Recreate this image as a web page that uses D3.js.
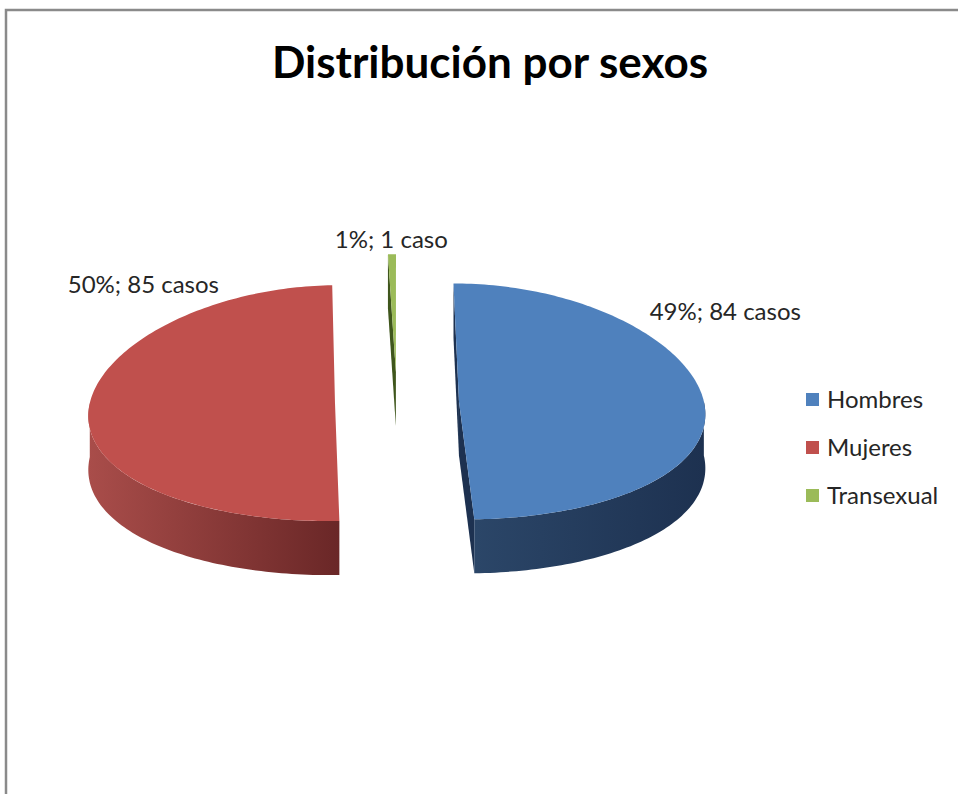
<!DOCTYPE html>
<html>
<head>
<meta charset="utf-8">
<script src="https://cdn.jsdelivr.net/npm/d3@7"></script>
<style>
  body { margin: 0; background: #ffffff; }
  text { font-family: Lato, "Open Sans", sans-serif; }
</style>
</head>
<body>
<div id="pie_chart"></div>
<script>
// data
const categories = ["Hombres", "Mujeres", "Transexual"];
const casos = [84, 85, 1];
const title = "Distribución por sexos";

const width = 958, height = 794;

// 3d pie geometry
const cx = 397, cy = 402;
const rx = 245, ry = 118;
const depth = 54;
const explode = 62;
const persp = 0.00075; // slight perspective: far side narrower

const color = d3.scaleOrdinal().domain(categories).range(["#4f81bd", "#c0504d", "#9bbb59"]);
const sideLight = d3.scaleOrdinal().domain(categories).range(["#2b4668", "#a94d4a", "#7d9a45"]);
const sideDark = d3.scaleOrdinal().domain(categories).range(["#1d3150", "#6a2727", "#3f561c"]);

const svg = d3.select("#pie_chart")
  .append("svg")
  .attr("width", width)
  .attr("height", height);

// chart frame (right and bottom edges fall outside)
svg.append("rect")
  .attr("x", 6).attr("y", 10)
  .attr("width", 1200).attr("height", 1200)
  .attr("fill", "#ffffff")
  .attr("stroke", "#8a8a8a")
  .attr("stroke-width", 2.5);

svg.append("text")
  .attr("x", 490)
  .attr("y", 78)
  .attr("text-anchor", "middle")
  .style("font-size", "44px")
  .style("font-weight", "bold")
  .attr("fill", "#000")
  .text(title);

const total = d3.sum(casos);
const rows = categories.map((c, i) => ({ cat: c, value: casos[i] }));

const pie = d3.pie()
  .sort(null)
  .value(d => d.value)
  .startAngle(0)
  .endAngle(2 * Math.PI);

const arcs = pie(rows);

const defs = svg.append("defs");
arcs.forEach((a, i) => {
  const g = defs.append("linearGradient")
    .attr("id", "side" + i)
    .attr("x1", "0%").attr("x2", "100%")
    .attr("y1", "0%").attr("y2", "0%");
  g.append("stop").attr("offset", "0%").attr("stop-color", sideLight(a.data.cat));
  g.append("stop").attr("offset", "100%").attr("stop-color", sideDark(a.data.cat));
});

// point on a slice's ground ellipse
const flat = (c, ang) => [c[0] + rx * Math.sin(ang), c[1] - ry * Math.cos(ang)];
// project it (plus a vertical drop dy)
const project = (x, y, dy = 0) => {
  const s = 1 + persp * (y - cy);
  return [cx + (x - cx) * s, y + dy];
};
const pt = (c, ang, dy = 0) => project(...flat(c, ang), dy);
const arcPts = (c, a0, a1, dy = 0) => {
  const n = Math.max(2, Math.ceil((a1 - a0) / 0.02));
  return d3.range(n + 1).map(k => pt(c, a0 + (a1 - a0) * k / n, dy));
};
const area = p => d3.sum(p, (q, k) => {
  const r = p[(k + 1) % p.length];
  return q[0] * r[1] - r[0] * q[1];
});
const line = d3.line().curve(d3.curveLinear);

const pieG = svg.append("g");

arcs.forEach((a, i) => {
  const mid = (a.startAngle + a.endAngle) / 2;
  const c = [cx + explode * Math.sin(mid), cy - explode * Math.cos(mid) * ry / rx];
  const g = pieG.append("g");
  const c0 = project(c[0], c[1]);
  const c1 = project(c[0], c[1], depth);

  // cut faces that turn toward the viewer
  [[a.startAngle, -1], [a.endAngle, 1]].forEach(([ang, sign]) => {
    const poly = [c0, pt(c, ang), pt(c, ang, depth), c1];
    if (sign * area(poly) > 0) {
      g.append("path")
        .attr("d", line(poly) + "Z")
        .attr("fill", sideDark(a.data.cat));
    }
  });

  // outer wall, front half only
  const s = Math.max(a.startAngle, Math.PI / 2);
  const e = Math.min(a.endAngle, 3 * Math.PI / 2);
  if (e > s) {
    const pts = arcPts(c, s, e).concat(arcPts(c, s, e, depth).reverse());
    g.append("path")
      .attr("d", line(pts) + "Z")
      .attr("fill", "url(#side" + i + ")");
  }

  // top
  g.append("path")
    .attr("d", line([c0].concat(arcPts(c, a.startAngle, a.endAngle))) + "Z")
    .attr("fill", color(a.data.cat));

  a.center = c;
});

// data labels
const pct = d3.format(".0%");
const labelPlace = [
  { ang: 50, anchor: "start", dx: 3 },
  { ang: 332, anchor: "end", dx: -1 },
  { ang: null, anchor: "middle", dx: 0 }
];
arcs.forEach((a, i) => {
  const p = labelPlace[i];
  const ang = p.ang === null ? (a.startAngle + a.endAngle) / 2 : p.ang * Math.PI / 180;
  const r = flat(a.center, ang);
  svg.append("text")
    .attr("x", r[0] + p.dx)
    .attr("y", r[1] - 6)
    .attr("text-anchor", p.anchor)
    .style("font-size", "24px")
    .attr("fill", "#262626")
    .text(pct(a.data.value / total) + "; " + a.data.value + (a.data.value === 1 ? " caso" : " casos"));
});

// legend
const legend = svg.append("g").attr("transform", "translate(806,400)");
const item = legend.selectAll("g")
  .data(categories)
  .join("g")
  .attr("transform", (d, i) => "translate(0," + i * 48 + ")");
item.append("rect")
  .attr("x", 0).attr("y", -7)
  .attr("width", 13).attr("height", 13)
  .attr("fill", d => color(d));
item.append("text")
  .attr("x", 21)
  .attr("y", 8)
  .style("font-size", "24px")
  .attr("fill", "#262626")
  .text(d => d);
</script>
</body>
</html>
